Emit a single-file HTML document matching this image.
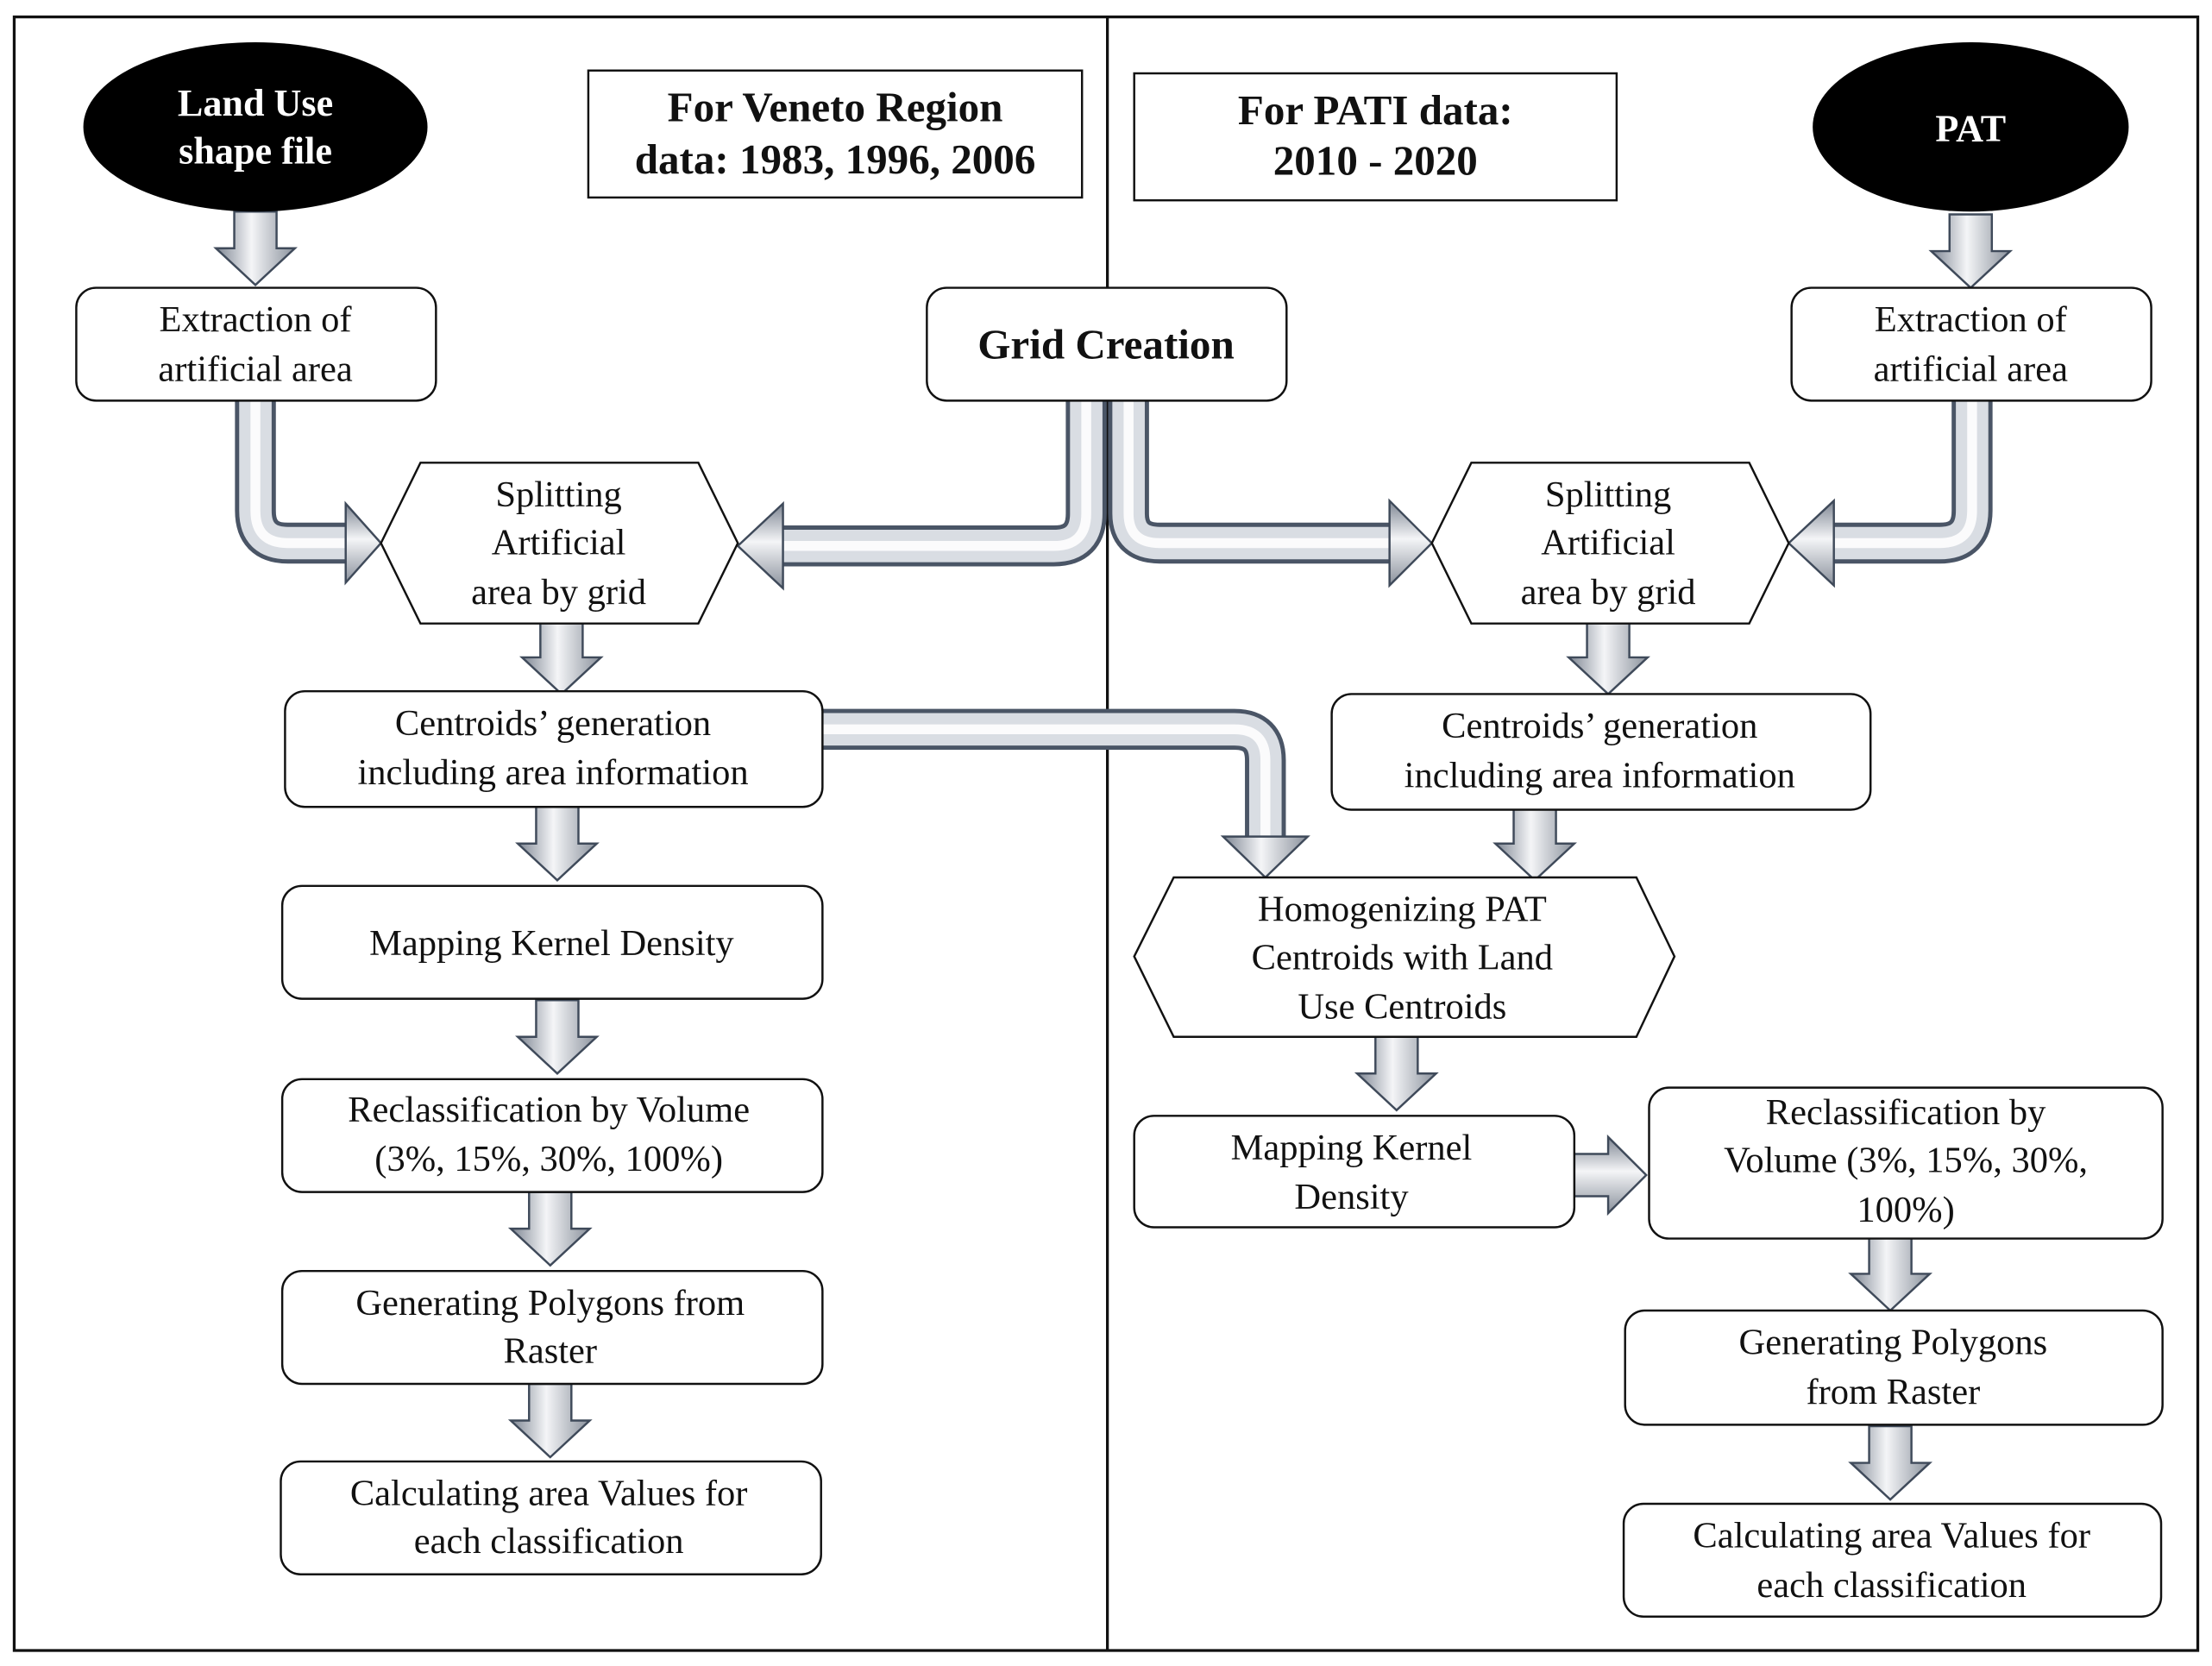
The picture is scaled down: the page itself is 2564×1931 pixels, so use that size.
<!DOCTYPE html>
<html><head><meta charset="utf-8"><style>
html,body{margin:0;padding:0;background:#fff;}
svg{display:block;}
text{font-family:"Liberation Serif",serif;fill:#111;}
</style></head><body>
<svg width="2564" height="1931" viewBox="0 0 1568 1181" xmlns="http://www.w3.org/2000/svg">
<defs>
<linearGradient id="gv" x1="0" y1="0" x2="1" y2="0">
<stop offset="0" stop-color="#7d8592"/><stop offset="0.45" stop-color="#f4f5f7"/><stop offset="1" stop-color="#8a919c"/></linearGradient>
<linearGradient id="gh" x1="0" y1="0" x2="0" y2="1">
<stop offset="0" stop-color="#7d8592"/><stop offset="0.45" stop-color="#f4f5f7"/><stop offset="1" stop-color="#8a919c"/></linearGradient>
<symbol id="da" overflow="visible">
<polygon points="-15,0 15,0 15,26 28,26 0,52 -28,26 -15,26" fill="url(#gv)" stroke="#3f4a5a" stroke-width="1.5"/>
</symbol>
</defs>
<rect x="10" y="12" width="1548" height="1158" fill="#fff" stroke="#111" stroke-width="2"/>
<line x1="785" y1="12" x2="785" y2="1170" stroke="#111" stroke-width="2"/>

<g fill="none" stroke-linejoin="round">
<g stroke="#4a5566" stroke-width="29">
<path d="M181,284 V362 Q181,385 204,385 H250"/>
<path d="M770,284 V364 Q770,387 747,387 H548"/>
<path d="M800,284 V364 Q800,385 822,385 H992"/>
<path d="M1398,284 V362 Q1398,385 1375,385 H1293"/>
<path d="M583,517 H875 Q897,517 897,539 V596"/>
</g>
<g stroke="#d9dde3" stroke-width="23">
<path d="M181,284 V362 Q181,385 204,385 H250"/>
<path d="M770,284 V364 Q770,387 747,387 H548"/>
<path d="M800,284 V364 Q800,385 822,385 H992"/>
<path d="M1398,284 V362 Q1398,385 1375,385 H1293"/>
<path d="M583,517 H875 Q897,517 897,539 V596"/>
</g>
<g stroke="#fbfbfc" stroke-width="7">
<path d="M181,284 V362 Q181,385 204,385 H250"/>
<path d="M770,284 V364 Q770,387 747,387 H548"/>
<path d="M800,284 V364 Q800,385 822,385 H992"/>
<path d="M1398,284 V362 Q1398,385 1375,385 H1293"/>
<path d="M583,517 H875 Q897,517 897,539 V596"/>
</g>
</g>
<g stroke="#3f4a5a" stroke-width="1.5">
<polygon points="245,357 270,385 245,413" fill="url(#gh)"/>
<polygon points="555,357 523,387 555,417" fill="url(#gh)"/>
<polygon points="985,355 1015,385 985,415" fill="url(#gh)"/>
<polygon points="1300,355 1268,385 1300,415" fill="url(#gh)"/>
<polygon points="867,593 897,622 927,593" fill="url(#gv)"/>
<polygon points="1116,818 1140,818 1140,806 1167,833 1140,860 1140,848 1116,848" fill="url(#gh)"/>
</g>
<use href="#da" x="181" y="150"/>
<use href="#da" x="1397" y="152"/>
<use href="#da" x="398" y="440"/>
<use href="#da" x="1140" y="440"/>
<use href="#da" x="395" y="572"/>
<use href="#da" x="1088" y="572"/>
<use href="#da" x="395" y="709"/>
<use href="#da" x="390" y="845"/>
<use href="#da" x="390" y="981"/>
<use href="#da" x="990" y="735"/>
<use href="#da" x="1340" y="877"/>
<use href="#da" x="1340" y="1011"/>

<ellipse cx="181" cy="90" rx="122" ry="60" fill="#000"/>
<text x="181" y="82" text-anchor="middle" font-size="27" font-weight="bold" style="fill:#fff">Land Use</text>
<text x="181" y="116" text-anchor="middle" font-size="27" font-weight="bold" style="fill:#fff">shape file</text>
<ellipse cx="1397" cy="90" rx="112" ry="60" fill="#000"/>
<text x="1397" y="100" text-anchor="middle" font-size="27" font-weight="bold" style="fill:#fff">PAT</text>

<rect x="417" y="50" width="350" height="90" fill="#fff" stroke="#111" stroke-width="1.5"/>
<text x="592" y="86" text-anchor="middle" font-size="30" font-weight="bold">For Veneto Region</text>
<text x="592" y="123" text-anchor="middle" font-size="30" font-weight="bold">data: 1983, 1996, 2006</text>
<rect x="804" y="52" width="342" height="90" fill="#fff" stroke="#111" stroke-width="1.5"/>
<text x="975" y="88" text-anchor="middle" font-size="30" font-weight="bold">For PATI data:</text>
<text x="975" y="124" text-anchor="middle" font-size="30" font-weight="bold">2010 - 2020</text>

<g fill="#fff" stroke="#111" stroke-width="1.5">
<rect x="54" y="204" width="255" height="80" rx="14"/>
<rect x="657" y="204" width="255" height="80" rx="14"/>
<rect x="1270" y="204" width="255" height="80" rx="14"/>
<polygon points="270,385 298,328 495,328 523,385 495,442 298,442"/>
<polygon points="1015,385 1043,328 1240,328 1268,385 1240,442 1043,442"/>
<rect x="202" y="490" width="381" height="82" rx="14"/>
<rect x="944" y="492" width="382" height="82" rx="14"/>
<rect x="200" y="628" width="383" height="80" rx="14"/>
<rect x="200" y="765" width="383" height="80" rx="14"/>
<rect x="200" y="901" width="383" height="80" rx="14"/>
<rect x="199" y="1036" width="383" height="80" rx="14"/>
<polygon points="804,678 832,622 1160,622 1187,678 1160,735 832,735"/>
<rect x="804" y="791" width="312" height="79" rx="14"/>
<rect x="1169" y="771" width="364" height="107" rx="14"/>
<rect x="1152" y="929" width="381" height="81" rx="14"/>
<rect x="1151" y="1066" width="381" height="80" rx="14"/>
</g>

<g font-size="26" text-anchor="middle">
<text x="181" y="235">Extraction of</text><text x="181" y="270">artificial area</text>
<text x="784" y="254" font-size="30" font-weight="bold">Grid Creation</text>
<text x="1397" y="235">Extraction of</text><text x="1397" y="270">artificial area</text>
<text x="396" y="359">Splitting</text><text x="396" y="393">Artificial</text><text x="396" y="428">area by grid</text>
<text x="1140" y="359">Splitting</text><text x="1140" y="393">Artificial</text><text x="1140" y="428">area by grid</text>
<text x="392" y="521">Centroids’ generation</text><text x="392" y="556">including area information</text>
<text x="1134" y="523">Centroids’ generation</text><text x="1134" y="558">including area information</text>
<text x="391" y="677">Mapping Kernel Density</text>
<text x="389" y="795">Reclassification by Volume</text><text x="389" y="830">(3%, 15%, 30%, 100%)</text>
<text x="390" y="932">Generating Polygons from</text><text x="390" y="966">Raster</text>
<text x="389" y="1067">Calculating area Values for</text><text x="389" y="1101">each classification</text>
<text x="994" y="653">Homogenizing PAT</text><text x="994" y="687">Centroids with Land</text><text x="994" y="722">Use Centroids</text>
<text x="958" y="822">Mapping Kernel</text><text x="958" y="857">Density</text>
<text x="1351" y="797">Reclassification by</text><text x="1351" y="831">Volume (3%, 15%, 30%,</text><text x="1351" y="866">100%)</text>
<text x="1342" y="960">Generating Polygons</text><text x="1342" y="995">from Raster</text>
<text x="1341" y="1097">Calculating area Values for</text><text x="1341" y="1132">each classification</text>
</g>
</svg>
</body></html>
